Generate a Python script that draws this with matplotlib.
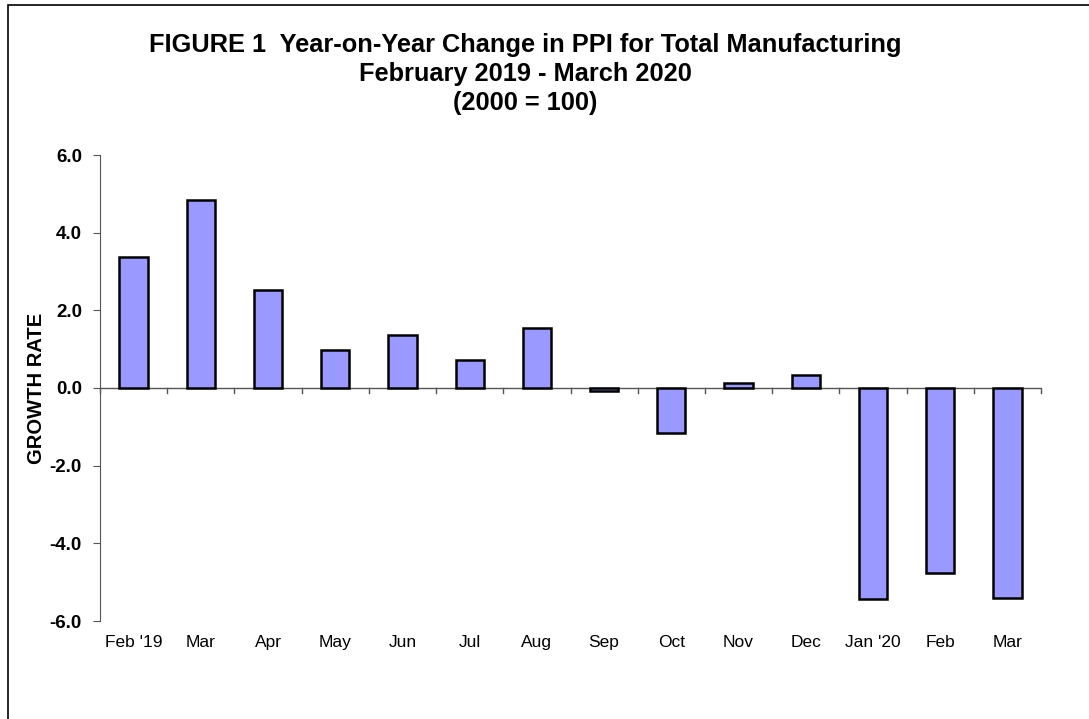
import numpy as np
import matplotlib
matplotlib.use("Agg")
import matplotlib.pyplot as plt
from matplotlib.patches import Rectangle

months = ["Feb '19", "Mar", "Apr", "May", "Jun", "Jul", "Aug",
          "Sep", "Oct", "Nov", "Dec", "Jan '20", "Feb", "Mar"]
growth = [3.37, 4.83, 2.52, 0.97, 1.36, 0.71, 1.54,
          -0.07, -1.15, 0.12, 0.34, -5.43, -4.76, -5.41]
yticks = [-6.0, -4.0, -2.0, 0.0, 2.0, 4.0, 6.0]

plt.rcParams['font.family'] = ['Liberation Sans', 'DejaVu Sans']

fig = plt.figure(figsize=(10.89, 7.19), dpi=100)
ax = fig.add_axes([100/1089, 1-621/719, 941/1089, 466/719])

x = np.arange(len(months))
ax.bar(x, growth, width=0.42, color='#9999FF', edgecolor='black', linewidth=1.8, zorder=3)

ax.set_xlim(-0.5, len(months) - 0.5)
ax.set_ylim(-6, 6)
ax.set_yticks(yticks)
ax.set_yticklabels(['%.1f' % v for v in yticks], fontsize=13.5, fontweight='bold')
ax.tick_params(axis='y', direction='out', length=5, color='#555555', pad=8)

# category labels, no tick marks on them
ax.set_xticks(x)
ax.set_xticklabels(months, fontsize=12.5)
ax.tick_params(axis='x', length=0, pad=10)

for s in ['top', 'right', 'bottom']:
    ax.spines[s].set_visible(False)
ax.spines['left'].set_color('#555555')
ax.axhline(0, color='#555555', linewidth=1, zorder=2)

# tick marks hang from the zero line between categories
for xb in np.arange(len(months) + 1) - 0.5:
    ax.plot([xb, xb], [0, -0.13], color='#555555', linewidth=1, clip_on=False, zorder=2)

fig.text(37/1089, 1-388/719, 'GROWTH RATE', rotation=90, ha='center', va='center',
         fontsize=14.5, fontweight='bold')

title_lines = ['FIGURE 1  Year-on-Year Change in PPI for Total Manufacturing',
               'February 2019 - March 2020',
               '(2000 = 100)']
for i, t in enumerate(title_lines):
    fig.text(525/1089, 1-(45 + 29*i)/719, t, ha='center', va='center',
             fontsize=18.3, fontweight='bold')

fig.patches.append(Rectangle((8/1089, -0.1), 1.2, 1 - 5/719 + 0.1, transform=fig.transFigure,
                             fill=False, edgecolor='black', linewidth=1.2))

fig.savefig('out.png', dpi=100)
